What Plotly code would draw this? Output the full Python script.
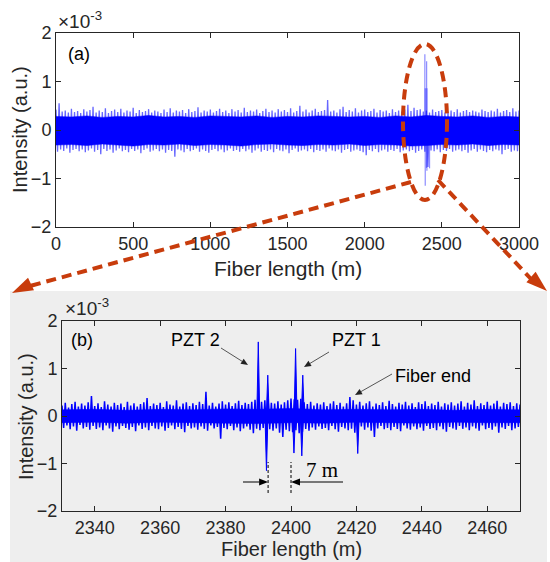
import numpy as np
import plotly.graph_objects as go

W, H = 550, 562

# ---------------- data (intensity in units of 1e-3) ----------------
# Panel (a): whole fibre. Noise extremes every 20 m (maxima at 0, 20, ...,
# minima at 10, 30, ...), dense noise core every 100 m.
TOP_STEP = 20
top_hi = [
    0.42, 0.55, 0.38, 0.40, 0.36, 0.44, 0.37, 0.39, 0.35, 0.43,
    0.38, 0.41, 0.48, 0.36, 0.40, 0.37, 0.45, 0.35, 0.39, 0.42,
    0.37, 0.44, 0.36, 0.40, 0.38, 0.46, 0.35, 0.41, 0.37, 0.39,
    0.43, 0.36, 0.40, 0.38, 0.35, 0.42, 0.37, 0.45, 0.36, 0.40,
    0.38, 0.41, 0.35, 0.43, 0.37, 0.39, 0.47, 0.36, 0.40, 0.38,
    0.42, 0.36, 0.39, 0.44, 0.37, 0.40, 0.35, 0.43, 0.38, 0.41,
    0.36, 0.46, 0.37, 0.40, 0.38, 0.42, 0.35, 0.39, 0.44, 0.37,
    0.40, 0.36, 0.43, 0.38, 0.41, 0.37, 0.45, 0.36, 0.39, 0.50,
    0.38, 0.42, 0.36, 0.40, 0.44, 0.37, 0.39, 0.41, 0.62, 0.38,
    0.40, 0.36, 0.43, 0.48, 0.37, 0.41, 0.38, 0.45, 0.36, 0.40,
    0.42, 0.37, 0.39, 0.44, 0.36, 0.41, 0.38, 0.40, 0.35, 0.43,
    0.37, 0.40, 0.38, 0.42, 0.52, 0.39, 0.46, 0.41, 0.43, 0.38,
    0.40, 0.36, 0.42, 0.37, 0.39, 0.41, 0.36, 0.38, 0.40, 0.37,
    0.43, 0.36, 0.39, 0.41, 0.37, 0.40, 0.38, 0.36, 0.42, 0.39,
    0.37, 0.40, 0.38, 0.44, 0.36, 0.39, 0.41, 0.37, 0.45, 0.38,
    0.40,
]
top_lo = [
    -0.45, -0.40, -0.43, -0.38, -0.47, -0.41, -0.39, -0.44, -0.40, -0.46,
    -0.42, -0.38, -0.45, -0.41, -0.50, -0.39, -0.43, -0.40, -0.47, -0.42,
    -0.38, -0.44, -0.41, -0.46, -0.39, -0.43, -0.40, -0.48, -0.41, -0.38,
    -0.45, -0.42, -0.39, -0.44, -0.40, -0.47, -0.41, -0.43, -0.55, -0.40,
    -0.42, -0.46, -0.39, -0.44, -0.41, -0.38, -0.45, -0.40, -0.43, -0.47,
    -0.41, -0.39, -0.44, -0.40, -0.46, -0.42, -0.38, -0.43, -0.41, -0.45,
    -0.39, -0.44, -0.40, -0.47, -0.42, -0.38, -0.45, -0.41, -0.43, -0.40,
    -0.46, -0.39, -0.42, -0.44, -0.40, -0.48, -0.41, -0.38, -0.45, -0.42,
    -0.40, -0.44, -0.39, -0.46, -0.41, -0.43, -0.40, -0.45, -0.38, -0.42,
    -0.44, -0.40, -0.47, -0.41, -0.39, -0.45, -0.42, -0.40, -0.43, -0.46,
    -0.52, -0.41, -0.44, -0.39, -0.46, -0.42, -0.40, -0.45, -0.41, -0.43,
    -0.39, -0.46, -0.42, -0.40, -0.44, -0.41, -0.47, -0.43, -0.40, -0.45,
    -0.76, -0.42, -0.44, -0.40, -0.46, -0.41, -0.43, -0.39, -0.45, -0.42,
    -0.40, -0.44, -0.41, -0.47, -0.42, -0.39, -0.45, -0.40, -0.43, -0.46,
    -0.41, -0.44, -0.40, -0.42, -0.50, -0.41, -0.39, -0.45, -0.42, -0.44,
]
CORE_STEP = 100
top_core_hi = [
    0.28, 0.27, 0.29, 0.26, 0.28, 0.27, 0.30, 0.27, 0.28, 0.26,
    0.29, 0.28, 0.27, 0.29, 0.26, 0.28, 0.27, 0.29, 0.28, 0.27,
    0.28, 0.26, 0.29, 0.27, 0.30, 0.28, 0.27, 0.29, 0.26, 0.28,
    0.27,
]
top_core_lo = [
    -0.31, -0.30, -0.32, -0.29, -0.31, -0.33, -0.30, -0.31, -0.29, -0.32,
    -0.30, -0.31, -0.33, -0.30, -0.29, -0.31, -0.32, -0.30, -0.31, -0.29,
    -0.32, -0.30, -0.31, -0.33, -0.32, -0.30, -0.31, -0.29, -0.32, -0.30,
    -0.31,
]

# Panel (b): zoom 2330-2470 m, noise extremes every 1 m
# (maxima at whole metres, minima at half metres), dense core every 10 m
BOT_START, BOT_STEP = 2330, 1
bot_hi = [
    0.22, 0.28, 0.18, 0.25, 0.30, 0.20, 0.26, 0.22, 0.29, 0.42,
    0.21, 0.27, 0.19, 0.31, 0.24, 0.20, 0.28, 0.23, 0.26, 0.19,
    0.30, 0.22, 0.27, 0.20, 0.25, 0.29, 0.38, 0.21, 0.26, 0.23,
    0.28, 0.19, 0.31, 0.24, 0.22, 0.33, 0.20, 0.26, 0.29, 0.21,
    0.27, 0.23, 0.30, 0.25, 0.51, 0.22, 0.28, 0.20, 0.26, 0.31,
    0.24, 0.29, 0.21, 0.27, 0.32, 0.23, 0.28, 0.25, 0.30, 0.34,
    0.36, 0.30, 0.33, 0.35, 0.28, 0.26, 0.31, 0.24, 0.29, 0.33,
    0.37, 0.35, 0.34, 0.36, 0.29, 0.25, 0.30, 0.22, 0.27, 0.24,
    0.29, 0.21, 0.26, 0.31, 0.23, 0.28, 0.20, 0.27, 0.40, 0.33,
    0.24, 0.30, 0.22, 0.27, 0.31, 0.20, 0.26, 0.23, 0.29, 0.21,
    0.32, 0.25, 0.20, 0.28, 0.24, 0.30, 0.22, 0.27, 0.19, 0.29,
    0.25, 0.31, 0.21, 0.26, 0.23, 0.30, 0.20, 0.27, 0.24, 0.29,
    0.22, 0.26, 0.31, 0.20, 0.28, 0.24, 0.33, 0.21, 0.27, 0.23,
    0.30, 0.22, 0.26, 0.32, 0.20, 0.28, 0.25, 0.29, 0.21, 0.27,
    0.24,
]
bot_lo = [
    -0.25, -0.20, -0.28, -0.22, -0.31, -0.19, -0.26, -0.23, -0.29, -0.21,
    -0.27, -0.24, -0.30, -0.20, -0.26, -0.33, -0.22, -0.28, -0.21, -0.25,
    -0.29, -0.23, -0.32, -0.20, -0.27, -0.24, -0.30, -0.21, -0.26, -0.28,
    -0.22, -0.31, -0.25, -0.20, -0.28, -0.23, -0.27, -0.34, -0.21, -0.26,
    -0.24, -0.29, -0.22, -0.27, -0.31, -0.20, -0.26, -0.23, -0.48, -0.25,
    -0.28, -0.21, -0.30, -0.24, -0.32, -0.26, -0.22, -0.29, -0.36, -0.27,
    -0.30, -0.25, -0.33, -0.28, -0.31, -0.26, -0.35, -0.44, -0.29, -0.32,
    -0.34, -0.30, -0.36, -0.33, -0.27, -0.31, -0.24, -0.29, -0.22, -0.27,
    -0.25, -0.30, -0.21, -0.28, -0.33, -0.23, -0.26, -0.30, -0.27, -0.35,
    -0.28, -0.22, -0.29, -0.24, -0.31, -0.44, -0.26, -0.21, -0.28, -0.25,
    -0.30, -0.23, -0.27, -0.32, -0.20, -0.26, -0.29, -0.22, -0.28, -0.24,
    -0.31, -0.21, -0.27, -0.25, -0.30, -0.22, -0.28, -0.33, -0.23, -0.26,
    -0.29, -0.21, -0.27, -0.24, -0.30, -0.22, -0.26, -0.31, -0.20, -0.28,
    -0.25, -0.29, -0.22, -0.35, -0.24, -0.27, -0.21, -0.30, -0.26, -0.23,
]
BOT_CORE_STEP = 10
bot_core_hi = [0.13, 0.14, 0.12, 0.14, 0.13, 0.15, 0.14, 0.16, 0.13, 0.14,
               0.13, 0.14, 0.12, 0.14, 0.13]
bot_core_lo = [-0.14, -0.13, -0.15, -0.13, -0.14, -0.15, -0.16, -0.14, -0.15, -0.13,
               -0.14, -0.15, -0.13, -0.14, -0.14]

# Reflection events (PZT 2, PZT 1, fibre end)
peak_up_x = [2390.0, 2392.9, 2401.4, 2403.6]
peak_up_y = [1.56, 0.86, 1.42, 0.86]
peak_dn_x = [2392.5, 2400.9, 2403.3, 2420.4]
peak_dn_y = [-1.15, -0.78, -0.84, -0.79]

# distance marker between the two PZTs
gap_x = [2393.0, 2400.0]
gap_label = "7 m"

top_ticks = [0, 500, 1000, 1500, 2000, 2500, 3000]
bot_ticks = [2340, 2360, 2380, 2400, 2420, 2440, 2460]
y_ticks = [-2, -1, 0, 1, 2]

BLUE = "#0000ff"
AX = "#262626"
RED = "#c83c0c"
FONT = "Arial, Liberation Sans, sans-serif"


def px(x):
    return x / W


def py(y):
    return 1 - y / H


def zigzag(hi, lo, x0, step):
    """Trace alternating between successive maxima and minima."""
    xs, ys = [], []
    for i, v in enumerate(hi):
        xs.append(x0 + i * step)
        ys.append(v)
        if i < len(lo):
            xs.append(x0 + (i + 0.5) * step)
            ys.append(lo[i])
    return xs, ys


def band(hi, lo, x0, step):
    """Closed polygon between an upper and a lower level."""
    xs = [x0 + i * step for i in range(len(hi))]
    xs = xs + xs[::-1] + [xs[0]]
    ys = list(hi) + list(lo)[::-1] + [hi[0]]
    return xs, ys


fig = go.Figure()

# panel (a): noise trace, dense core, reflection spikes
tx, ty = zigzag(top_hi, top_lo, 0, TOP_STEP)
fig.add_trace(go.Scatter(x=tx, y=ty, mode="lines",
                         line=dict(color="rgba(0,0,255,0.6)", width=1.3, simplify=False),
                         xaxis="x", yaxis="y", hoverinfo="skip"))
cx, cy = band(top_core_hi, top_core_lo, 0, CORE_STEP)
fig.add_trace(go.Scatter(x=cx, y=cy, mode="lines", fill="toself", fillcolor=BLUE,
                         line=dict(color=BLUE, width=0.5, simplify=False),
                         xaxis="x", yaxis="y", hoverinfo="skip"))
for sx, sy in list(zip(peak_up_x, peak_up_y)) + list(zip(peak_dn_x, peak_dn_y)):
    fig.add_trace(go.Scatter(x=[sx, sx], y=[0, sy], mode="lines",
                             line=dict(color="rgba(0,0,255,0.45)", width=1.2),
                             xaxis="x", yaxis="y", hoverinfo="skip"))

# panel (b): noise trace, dense core, reflection spikes
bx, by = zigzag(bot_hi, bot_lo, BOT_START, BOT_STEP)
fig.add_trace(go.Scatter(x=bx, y=by, mode="lines",
                         line=dict(color=BLUE, width=1.5, simplify=False),
                         xaxis="x2", yaxis="y2", hoverinfo="skip"))
cx, cy = band(bot_core_hi, bot_core_lo, BOT_START, BOT_CORE_STEP)
fig.add_trace(go.Scatter(x=cx, y=cy, mode="lines", fill="toself", fillcolor=BLUE,
                         line=dict(color=BLUE, width=0.5, simplify=False),
                         xaxis="x2", yaxis="y2", hoverinfo="skip"))
sx_, sy_ = [], []
for sx, sy in list(zip(peak_up_x, peak_up_y)) + list(zip(peak_dn_x, peak_dn_y)):
    sx_ += [sx - 0.45, sx, sx + 0.45, None]
    sy_ += [0, sy, 0, None]
fig.add_trace(go.Scatter(x=sx_, y=sy_, mode="lines", fill="toself", fillcolor=BLUE,
                         line=dict(color=BLUE, width=1, simplify=False),
                         xaxis="x2", yaxis="y2", hoverinfo="skip"))

axis_common = dict(showline=True, linecolor=AX, linewidth=1, mirror="ticks",
                   ticks="inside", ticklen=5, tickcolor=AX, showgrid=False,
                   zeroline=False, tickfont=dict(family=FONT, size=18, color=AX),
                   automargin=False)

fig.update_layout(
    width=W, height=H, margin=dict(l=0, r=0, t=0, b=0),
    paper_bgcolor="white", plot_bgcolor="white", showlegend=False,
    xaxis=dict(domain=[px(56), px(519)], range=[0, 3000], tickvals=top_ticks,
               anchor="y", **axis_common),
    yaxis=dict(domain=[py(227), py(33)], range=[-2, 2], tickvals=y_ticks,
               anchor="x", **axis_common),
    xaxis2=dict(domain=[px(62), px(520)], range=[2330, 2470], tickvals=bot_ticks,
                anchor="y2", **axis_common),
    yaxis2=dict(domain=[py(511), py(321)], range=[-2, 2], tickvals=y_ticks,
                anchor="x2", **axis_common),
)

shapes = [
    # grey panel behind (b)
    dict(type="rect", xref="paper", yref="paper", x0=px(10), x1=px(547), y0=py(562), y1=py(291),
         fillcolor="#eeeeee", line=dict(width=0), layer="below"),
]
# distance marker lines
for gx in gap_x:
    shapes.append(dict(type="line", xref="x2", yref="paper", x0=gx, x1=gx, y0=py(493), y1=py(462),
                       line=dict(color="black", width=1, dash="3px,2px")))

# red dashed ellipse and zoom arrows
red_line = dict(color=RED, width=4, dash="10px,6px")
shapes.append(dict(type="circle", xref="paper", yref="paper", x0=px(403), x1=px(447),
                   y0=py(200), y1=py(44), line=red_line, layer="above"))
shapes.append(dict(type="line", xref="paper", yref="paper", x0=px(411), y0=py(182),
                   x1=px(30), y1=py(286), line=red_line, layer="above"))
shapes.append(dict(type="line", xref="paper", yref="paper", x0=px(438), y0=py(180),
                   x1=px(532), y1=py(280), line=red_line, layer="above"))


def tri(tip, back, half):
    # filled arrowhead pointing at tip, with its base centred on back
    tx_, ty_ = tip
    bx_, by_ = back
    dx, dy = tx_ - bx_, ty_ - by_
    n = (dx * dx + dy * dy) ** 0.5
    nx, ny = -dy / n, dx / n
    p1 = (bx_ + nx * half, by_ + ny * half)
    p2 = (bx_ - nx * half, by_ - ny * half)
    pts = [tip, p1, p2]
    return "M " + " L ".join(f"{px(a):.5f},{py(b):.5f}" for a, b in pts) + " Z"


def arrow(tip, tail, color="#555555", width=1, head_len=7, head_half=3, head_color="black"):
    dx, dy = tip[0] - tail[0], tip[1] - tail[1]
    n = (dx * dx + dy * dy) ** 0.5
    back = (tip[0] - dx / n * head_len, tip[1] - dy / n * head_len)
    shapes.append(dict(type="line", xref="paper", yref="paper", x0=px(tail[0]), y0=py(tail[1]),
                       x1=px(back[0]), y1=py(back[1]), line=dict(color=color, width=width)))
    shapes.append(dict(type="path", xref="paper", yref="paper", path=tri(tip, back, head_half),
                       fillcolor=head_color, line=dict(width=0)))


shapes.append(dict(type="path", xref="paper", yref="paper", path=tri((12, 293), (31, 284), 7),
                   fillcolor=RED, line=dict(width=0), layer="above"))
shapes.append(dict(type="path", xref="paper", yref="paper", path=tri((547, 291), (531, 277), 7),
                   fillcolor=RED, line=dict(width=0), layer="above"))

# event pointers
arrow((248, 365), (221, 348), head_color="#222222")
arrow((304, 367), (329, 352), head_color="#222222")
arrow((355, 395), (392, 374), head_color="#222222")

# 7 m marker arrows
x2_px = lambda v: 62 + (v - 2330) / 140 * 458
arrow((x2_px(gap_x[0]), 482), (243, 482), color="black", head_len=9, head_half=3.5)
arrow((x2_px(gap_x[1]), 482), (343, 482), color="black", head_len=9, head_half=3.5)

fig.update_layout(shapes=shapes)

ann = []


def text(x, y, s, size=17, xanchor="center", yanchor="middle", family=FONT, color="black",
         angle=0):
    ann.append(dict(x=px(x), y=py(y), xref="paper", yref="paper",
                    text=s, showarrow=False, xanchor=xanchor, yanchor=yanchor,
                    textangle=angle, font=dict(family=family, size=size, color=color)))


# exponent labels, panel tags, axis titles
text(56, 20, "×10<sup>-3</sup>", size=19, xanchor="left", color=AX)
text(63, 307, "×10<sup>-3</sup>", size=19, xanchor="left", color=AX)
text(79, 54, "(a)", size=18)
text(82, 340, "(b)", size=18)
text(288, 268, "Fiber length (m)", size=21, color=AX)
text(291, 549, "Fiber length (m)", size=20, color=AX)
text(20, 130, "Intensity (a.u.)", size=20, color=AX, angle=-90)
text(26, 417, "Intensity (a.u.)", size=20, color=AX, angle=-90)

# event labels
text(195, 340, "PZT 2", size=18)
text(356, 340, "PZT 1", size=18)
text(433, 376, "Fiber end", size=18)
text(322, 470, gap_label, size=21, family="Times New Roman, Liberation Serif, serif")

fig.update_layout(annotations=ann)

fig.write_html("out.html")
